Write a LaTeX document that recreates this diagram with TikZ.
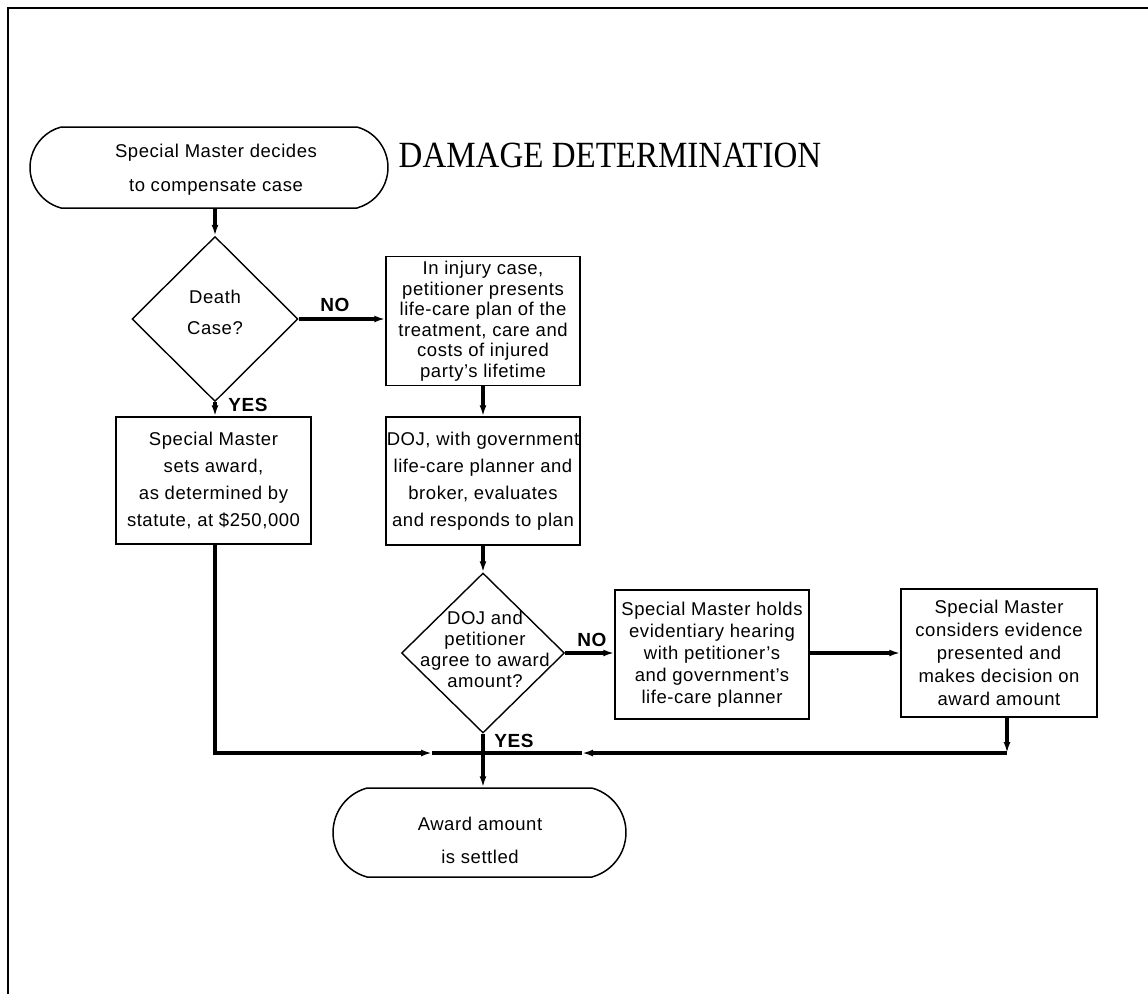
\documentclass[tikz,border=0pt]{standalone}
\usepackage{fontspec}
\setmainfont{Liberation Sans}[LetterSpace=3]
\newfontfamily\titlefont{Liberation Serif}
\usetikzlibrary{shapes.geometric,shapes.misc,arrows.meta}
\tikzset{
  box/.style={draw, line width=1.5pt, rectangle, inner sep=0pt, align=center},
  term/.style={draw, rounded rectangle, rounded rectangle arc length=150, line width=1.5pt, inner sep=0pt},
  dec/.style={draw, diamond, inner sep=0pt, line width=1.4pt},
  conn/.style={line width=3.2pt, -{Latex[length=11pt,width=7pt]}},
  plain/.style={line width=3.2pt},
  lab/.style={font=\bfseries\fontsize{19}{19}\selectfont, inner sep=0pt},
  txt/.style={align=center, inner sep=0pt}
}
\begin{document}
\begin{tikzpicture}[x=1pt,y=-1pt]
\useasboundingbox (0,0) rectangle (1148,994);
\draw[line width=2pt] (8,994) -- (8,8) -- (1148,8);

\node[term, minimum width=358pt, minimum height=81pt] (start) at (209,167.5) {};
\node[txt, font=\fontsize{18.5}{34}\selectfont] (startt) at (216,170) {Special Master decides\\to compensate case};
\node[font=\titlefont\fontsize{33}{33}\selectfont, inner sep=0pt] (title) at (610,155) {\scalebox{1}[1.12]{DAMAGE DETERMINATION}};

\node[dec, minimum width=166pt, minimum height=165pt] (d1) at (215,319) {};
\node[txt, font=\fontsize{18.5}{31}\selectfont] (d1t) at (215,312) {Death\\Case?};

\node[box, minimum width=194pt, minimum height=129pt, font=\fontsize{18.5}{20.5}\selectfont] (b1) at (483,321) {In injury case,\\petitioner presents\\life-care plan of the\\treatment, care and\\costs of injured\\party's lifetime};
\node[box, minimum width=194pt, minimum height=128pt, font=\fontsize{18.5}{27}\selectfont] (b2) at (483,481) {DOJ, with government\\life-care planner and\\broker, evaluates\\and responds to plan};
\node[box, minimum width=195pt, minimum height=127pt, font=\fontsize{18.5}{27}\selectfont] (b3) at (213.5,480.5) {Special Master\\sets award,\\as determined by\\statute, at \$250,000};

\node[dec, minimum width=163pt, minimum height=160pt] (d2) at (483,653) {};
\node[txt, font=\fontsize{18.5}{21}\selectfont] (d2t) at (485,649) {DOJ and\\petitioner\\agree to award\\amount?};

\node[box, minimum width=194pt, minimum height=129pt, font=\fontsize{18.5}{22}\selectfont] (b4) at (712,654.5) {Special Master holds\\evidentiary hearing\\with petitioner's\\and government's\\life-care planner};
\node[box, minimum width=196pt, minimum height=128pt, font=\fontsize{18.5}{23}\selectfont] (b5) at (999,653) {Special Master\\considers evidence\\presented and\\makes decision on\\award amount};

\node[term, minimum width=293pt, minimum height=89pt] (end) at (479.5,832.5) {};
\node[txt, font=\fontsize{18.5}{33}\selectfont] (endt) at (480,840) {Award amount\\is settled};

\node[lab] (no1) at (335,305) {NO};
\node[lab] (yes1) at (248,405) {YES};
\node[lab] (no2) at (592,640) {NO};
\node[lab] (yes2) at (514,741) {YES};

\coordinate (J) at (483,753);
\coordinate (jl) at (432,753);
\coordinate (jr) at (1007,753);
\coordinate (jb) at (582,753);
\coordinate (b5b) at (1007,717);

\draw[conn] (start.south -| d1.north) -- (d1.north);
\draw[conn] (d1.east) -- (b1.west |- d1.east);
\draw[conn] (d1.south) -- (b3.north -| d1.south);
\draw[conn] (b1.south) -- (b2.north);
\draw[conn] (b2.south) -- (d2.north);
\draw[conn] (d2.east) -- (b4.west |- d2.east);
\draw[conn] (b4.east |- d2.east) -- (b5.west |- d2.east);
\draw[conn] (d2.south) -- (d2.south |- end.north);
\draw[conn] (b3.south -| d1.south) -- (jl -| d1.south) -- (jl);
\draw[plain] (jl) -- (J);
\draw[conn] (b5b) -- (jr);
\draw[conn] (jr) -- (jb);
\draw[plain] (jb) -- (J);
\end{tikzpicture}
\end{document}
